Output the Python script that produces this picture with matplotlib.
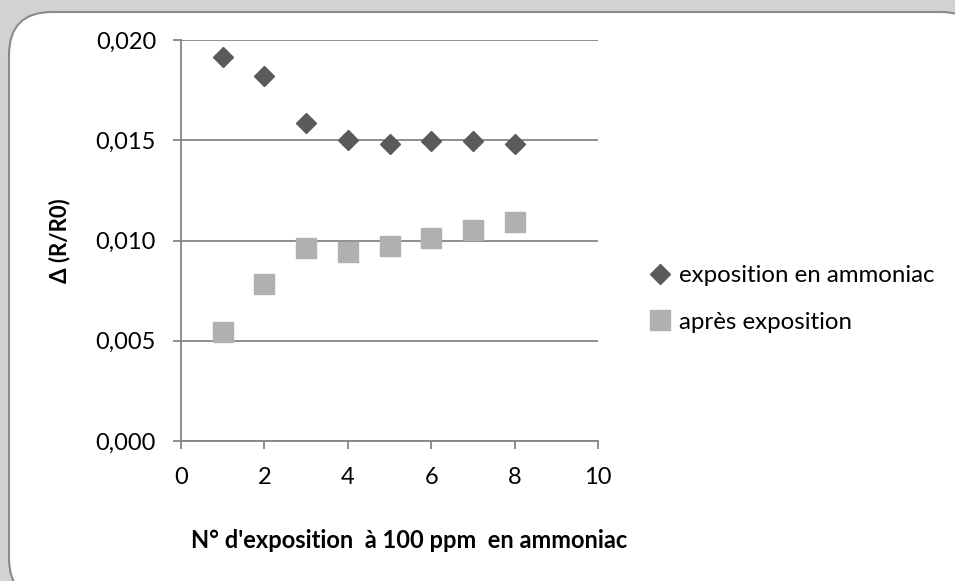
import matplotlib
matplotlib.use('Agg')
import matplotlib.pyplot as plt
import matplotlib.ticker as ticker
from matplotlib.patches import FancyBboxPatch, Rectangle

# data
expo = [1, 2, 3, 4, 5, 6, 7, 8]
pendant = [0.01917, 0.01822, 0.01588, 0.01500, 0.01483, 0.01498, 0.01496, 0.01483]
apres = [0.00544, 0.00784, 0.00962, 0.00943, 0.00973, 0.01013, 0.01053, 0.01091]
series_names = ['exposition en ammoniac', 'après exposition']
xticks = [0, 2, 4, 6, 8, 10]
yticks = [0.000, 0.005, 0.010, 0.015, 0.020]

plt.rcParams['font.family'] = ['Lato', 'DejaVu Sans']

W, H = 955, 581
fig = plt.figure(figsize=(W / 100, H / 100), dpi=100)

# grey backdrop + rounded white card
fig.patches.append(Rectangle((0, 0), 1, 1, transform=fig.transFigure,
                             facecolor='#d2d2d2', edgecolor='none', zorder=-3))
card = FancyBboxPatch((9 / W, -20 / H), (W + 20) / W, (H + 8) / H,
                      boxstyle='round,pad=0,rounding_size=0.045',
                      transform=fig.transFigure, facecolor='white',
                      edgecolor='#8a8a8a', linewidth=1.5, zorder=-2,
                      mutation_aspect=W / H)
fig.patches.append(card)

ax = fig.add_axes([181 / W, 1 - 441 / H, (598 - 181) / W, (441 - 40) / H])
ax.set_facecolor('none')

ax.plot(expo, pendant, linestyle='none', marker='D', markersize=10.2,
        color='#5a5a5a', label=series_names[0], zorder=3)
ax.plot(expo, apres, linestyle='none', marker='s', markersize=14,
        color='#b0b0b0', label=series_names[1], zorder=3)

ax.set_xlim(0, 10)
ax.set_ylim(0, 0.020)
ax.xaxis.set_major_locator(ticker.FixedLocator(xticks))
ax.yaxis.set_major_locator(ticker.FixedLocator(yticks))
ax.yaxis.set_major_formatter(ticker.FuncFormatter(lambda v, p: f'{v:.3f}'.replace('.', ',')))
ax.grid(axis='y', color='#868686', linewidth=1.3)
ax.set_axisbelow(True)

for s in ['top', 'right']:
    ax.spines[s].set_visible(False)
for s in ['left', 'bottom']:
    ax.spines[s].set_color('#868686')
    ax.spines[s].set_linewidth(1.3)
ax.tick_params(direction='out', length=6, width=1.3, color='#868686',
               labelsize=17, labelcolor='black')
ax.tick_params(axis='x', pad=13)
ax.tick_params(axis='y', pad=12)

ax.set_xlabel("N° d'exposition  à 100 ppm  en ammoniac", fontsize=17,
              fontweight='bold', va='center')
ax.xaxis.set_label_coords(0.546, -0.248)
ax.set_ylabel('Δ (R/R0)', fontsize=16, fontweight='bold', labelpad=18)

fig.legend(loc='center left', bbox_to_anchor=(636 / W, 1 - 299 / H),
           frameon=False, fontsize=17.3, handlelength=1.0, handletextpad=0.3,
           labelspacing=1.05, borderpad=0)

fig.savefig('out.png', dpi=100)
